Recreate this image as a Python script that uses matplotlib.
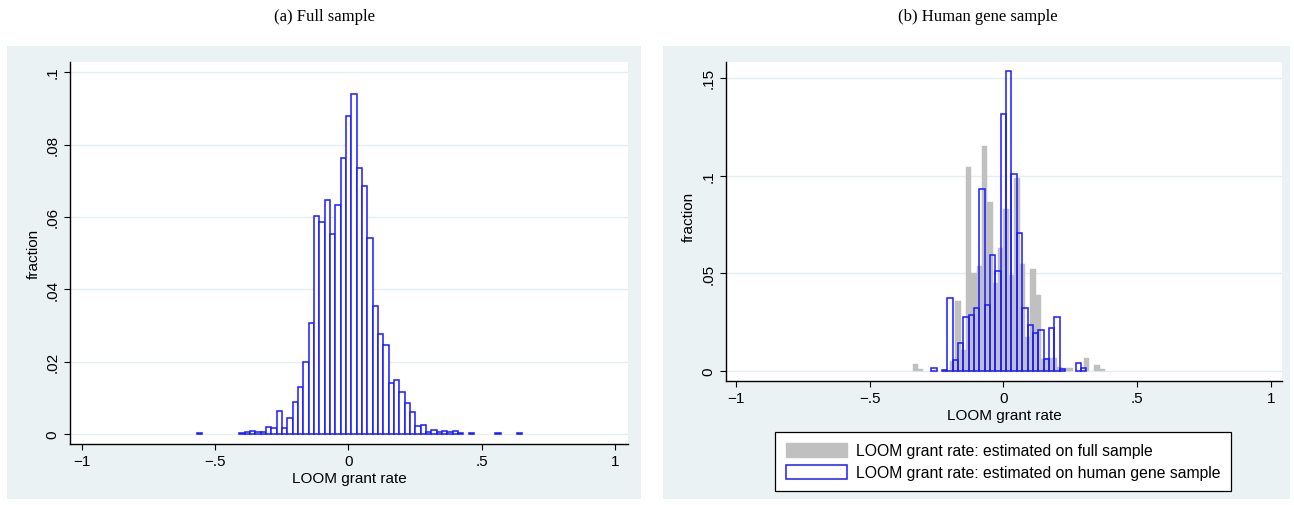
import numpy as np
import matplotlib
matplotlib.use("Agg")
import matplotlib.pyplot as plt
from matplotlib.patches import Rectangle, Patch

plt.rcParams['font.family'] = ['Liberation Sans', 'DejaVu Sans']

# --- data (fractions per bin of width 0.02) ---
bin_width = 0.02

# (a) full sample, bins start at -0.568
full_start = -0.568
full_heights = [0.0003, 0, 0, 0, 0, 0, 0, 0,
                0.0004, 0.0006, 0.0007, 0.0005, 0.0006, 0.0020, 0.0016, 0.0063,
                0.0017, 0.0043, 0.0088, 0.0129, 0.0200, 0.0308, 0.0603, 0.0587,
                0.0647, 0.0553, 0.0634, 0.0762, 0.0879, 0.0940, 0.0734, 0.0684,
                0.0542, 0.0354, 0.0276, 0.0245, 0.0140, 0.0150, 0.0117, 0.0086,
                0.0062, 0.0022, 0.0026, 0.0006, 0.0011, 0.0005, 0.0008, 0.0005,
                0.0008, 0.0004, 0, 0.0004, 0, 0, 0, 0,
                0.0003, 0, 0, 0, 0.0003]

# (b) human gene sample, rate estimated on full sample (gray), bins start at -0.34
gray_start = -0.34
gray_heights = [0.0034, 0.0009, 0, 0, 0, 0, 0, 0.0052, 0.0360, 0.0106,
                0.1043, 0.0502, 0.0538, 0.1151, 0.0865, 0.0450, 0.0627, 0.0830,
                0.0490, 0.0985, 0.0545, 0.0175, 0.0520, 0.0388, 0.0060, 0.0064,
                0.0065, 0.0020, 0.0017, 0.0017, 0, 0, 0.0066, 0, 0.0030, 0.0012]

# (b) rate estimated on human gene sample (blue outline), bins start at -0.27
blue_start = -0.27
blue_heights = [0.0016, 0, 0.0007, 0.0372, 0.0058, 0.0142, 0.0275, 0.0284,
                0.0322, 0.0929, 0.0339, 0.0591, 0.0512, 0.1314, 0.1537, 0.1008,
                0.0708, 0.0322, 0.0237, 0.0196, 0.0212, 0.0063, 0.0220, 0.0275,
                0.0008, 0, 0, 0.0040, 0.0016]

x_ticks = [-1, -0.5, 0, 0.5, 1]
x_tick_labels = ['\u22121', '\u2212.5', '0', '.5', '1']
yticks_a = [0, 0.02, 0.04, 0.06, 0.08, 0.1]
ytick_labels_a = ['0', '.02', '.04', '.06', '.08', '.1']
yticks_b = [0, 0.05, 0.1, 0.15]
ytick_labels_b = ['0', '.05', '.1', '.15']

legend_labels = ['LOOM grant rate: estimated on full sample',
                 'LOOM grant rate: estimated on human gene sample']

# --- layout ---
W, H = 1294, 506
fig = plt.figure(figsize=(W / 100, H / 100), dpi=100)
fig.patch.set_facecolor('white')

bg = '#eaf2f3'
blue = '#1a1aff'
gray = '#c0c0c0'


def px_rect(x0, y0, x1, y1):
    # pixel box -> figure fraction [left, bottom, width, height]
    return [x0 / W, 1 - y1 / H, (x1 - x0) / W, (y1 - y0) / H]


for x0, x1 in [(7, 641), (663, 1290)]:
    r = px_rect(x0, 47, x1, 500)
    fig.add_artist(Rectangle((r[0], r[1]), r[2], r[3], transform=fig.transFigure,
                             facecolor=bg, edgecolor='none', zorder=-5))


def bars(ax, start, heights, **kw):
    h = np.array(heights, dtype=float)
    left = start + bin_width * np.arange(len(h))
    keep = h > 0
    ax.bar(left[keep], h[keep], width=bin_width, align='edge', **kw)


def style(ax, yticks, ylabels, ylab_xy):
    ax.set_facecolor('white')
    for s in ['top', 'right']:
        ax.spines[s].set_visible(False)
    for s in ['left', 'bottom']:
        ax.spines[s].set_linewidth(1.0)
    ax.set_xticks(x_ticks)
    ax.set_xticklabels(x_tick_labels)
    ax.set_yticks(yticks)
    ax.set_yticklabels(ylabels, rotation=90, va='center')
    ax.tick_params(direction='out', length=4.5, width=0.8, labelsize=11, pad=3)
    ax.yaxis.grid(True, color='#e4eef0', linewidth=1.0)
    ax.set_axisbelow(True)
    ax.set_xlabel('LOOM grant rate', fontsize=11, labelpad=2)
    ax.set_ylabel('fraction', fontsize=11, va='center')
    ax.yaxis.set_label_coords(*ylab_xy)


# (a)
ax1 = fig.add_axes(px_rect(70, 63, 628, 445))
bars(ax1, full_start, full_heights, facecolor='white', edgecolor=blue, linewidth=1.1, zorder=3)
ax1.set_xlim(-1.0435, 1.049)
ax1.set_ylim(-0.00276, 0.1028)
style(ax1, yticks_a, ytick_labels_a, ((33.5 - 70) / 558, 0.5))

# (b)
ax2 = fig.add_axes(px_rect(726, 63, 1282, 382))
bars(ax2, gray_start, gray_heights, facecolor=gray, edgecolor=gray, linewidth=0.3, zorder=2)
bars(ax2, blue_start, blue_heights, facecolor='none', edgecolor=blue, linewidth=1.1, zorder=3)
ax2.set_xlim(-1.038, 1.042)
ax2.set_ylim(-0.00514, 0.1581)
style(ax2, yticks_b, ytick_labels_b, ((688.5 - 726) / 556, (382 - 217) / 319))

handles = [Patch(facecolor=gray, edgecolor=gray),
           Patch(facecolor='white', edgecolor=blue, linewidth=1.1)]
leg = fig.legend(handles, legend_labels, loc='upper center',
                 bbox_to_anchor=(1003 / W, 1 - 433 / H), fontsize=11.3,
                 frameon=True, fancybox=False, edgecolor='black', framealpha=1,
                 handlelength=3.9, handleheight=1.0, handletextpad=0.55,
                 labelspacing=0.42, borderpad=0.7, borderaxespad=0)
leg.get_frame().set_linewidth(0.9)

fig.text(324 / W, 1 - 17 / H, '(a) Full sample', ha='center', va='center',
         fontsize=12, family=['Liberation Serif', 'DejaVu Serif'])
fig.text(978 / W, 1 - 17 / H, '(b) Human gene sample', ha='center', va='center',
         fontsize=12, family=['Liberation Serif', 'DejaVu Serif'])

fig.savefig('out.png', dpi=100)
